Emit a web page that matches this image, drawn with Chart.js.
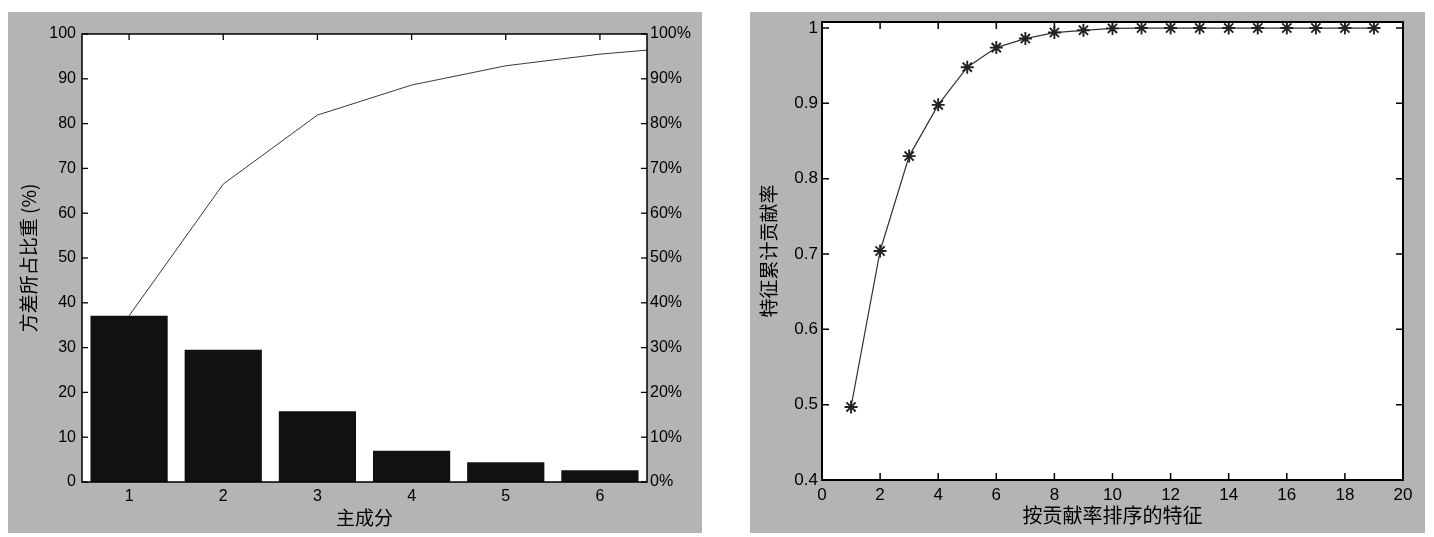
<!DOCTYPE html>
<html>
<head>
<meta charset="utf-8">
<script src="https://cdn.jsdelivr.net/npm/chart.js@4/dist/chart.umd.min.js"></script>
<style>
  html, body { margin: 0; padding: 0; background: #ffffff; }
  body { width: 1434px; height: 537px; position: relative; overflow: hidden; }
  canvas { position: absolute; background: #b4b4b4; }
  #left { left: 8px; top: 12px; }
  #right { left: 750px; top: 12px; }
</style>
</head>
<body>
<canvas id="left" width="694" height="521"></canvas>
<canvas id="right" width="675" height="521"></canvas>
<script>
// ---------- data: left chart (pareto of principal components) ----------
const pcIndex = [1, 2, 3, 4, 5, 6];               // components shown as bars / ticks
const varianceShare = [37.1, 29.5, 15.8, 7.0, 4.4, 2.6];
// cumulative line continues to component 7 and is clipped at the axis edge
const cumulativeIndex = [1, 2, 3, 4, 5, 6, 7];
const cumulativeShare = [37.1, 66.5, 81.9, 88.6, 92.9, 95.5, 97.3];
const leftAxisTitle = '方差所占比重 (%)';
const leftXTitle = '主成分';

// ---------- data: right chart (cumulative contribution) ----------
const featureRank = [1, 2, 3, 4, 5, 6, 7, 8, 9, 10, 11, 12, 13, 14, 15, 16, 17, 18, 19];
const cumulativeContribution = [0.497, 0.704, 0.830, 0.898, 0.948, 0.974, 0.986, 0.994, 0.997, 0.9995,
                                1.0, 1.0, 1.0, 1.0, 1.0, 1.0, 1.0, 1.0, 1.0];
const rightYTicks = [0.4, 0.5, 0.6, 0.7, 0.8, 0.9, 1.0];
const rightYTitle = '特征累计贡献率';
const rightXTitle = '按贡献率排序的特征';

const tickFont = "'Liberation Sans', Arial, sans-serif";
const cjkFont = "'Noto Sans CJK SC', sans-serif";

// MATLAB-like frame: white plot area, inward ticks, box border
function matlabFrame(opts) {
  return {
    id: 'matlabFrame',
    beforeDatasetsDraw(chart) {
      const {ctx, chartArea: a} = chart;
      ctx.save();
      ctx.fillStyle = '#ffffff';
      ctx.fillRect(a.left, a.top, a.right - a.left, a.bottom - a.top);
      ctx.strokeStyle = '#000';
      ctx.lineWidth = opts.tickWidth;
      const L = opts.tickLen;
      const xs = chart.scales.x;
      xs.ticks.forEach((t, i) => {
        const px = xs.getPixelForTick(i);
        ctx.beginPath();
        ctx.moveTo(px, a.bottom); ctx.lineTo(px, a.bottom - L);
        ctx.moveTo(px, a.top); ctx.lineTo(px, a.top + L);
        ctx.stroke();
      });
      const ys = chart.scales.y;
      const yr = chart.scales[opts.rightScale] || ys;
      ys.ticks.forEach((t, i) => {
        const py = ys.getPixelForTick(i);
        ctx.beginPath();
        ctx.moveTo(a.left, py); ctx.lineTo(a.left + L, py);
        if (yr === ys) { ctx.moveTo(a.right, py); ctx.lineTo(a.right - L, py); }
        ctx.stroke();
      });
      if (yr !== ys) {
        yr.ticks.forEach((t, i) => {
          const py = yr.getPixelForTick(i);
          ctx.beginPath();
          ctx.moveTo(a.right, py); ctx.lineTo(a.right - L, py);
          ctx.stroke();
        });
      }
      ctx.restore();
    },
    afterDraw(chart) {
      const {ctx, chartArea: a} = chart;
      ctx.save();
      ctx.strokeStyle = '#000';
      ctx.lineWidth = opts.frameWidth;
      ctx.strokeRect(a.left, a.top, a.right - a.left, a.bottom - a.top);
      ctx.restore();
    }
  };
}

const noGrid = { display: false, drawTicks: false };
function fixW(w) { return s => { s.width = w; s.paddingTop = 0; s.paddingBottom = 0; }; }
function fixH(h) { return s => { s.height = h; s.paddingLeft = 0; s.paddingRight = 0; }; }

// ---------------- left chart ----------------
new Chart(document.getElementById('left'), {
  type: 'bar',
  data: {
    datasets: [
      {
        type: 'line',
        data: cumulativeIndex.map((x, i) => ({ x: x, y: cumulativeShare[i] })),
        yAxisID: 'y1',
        borderColor: '#3a3a3a',
        borderWidth: 1,
        pointRadius: 0,
        fill: false,
        tension: 0,
        order: 0
      },
      {
        type: 'bar',
        data: pcIndex.map((x, i) => ({ x: x, y: varianceShare[i] })),
        yAxisID: 'y',
        backgroundColor: '#111111',
        borderWidth: 0,
        barPercentage: 0.82,
        categoryPercentage: 1.0,
        order: 1
      }
    ]
  },
  options: {
    responsive: false,
    animation: false,
    devicePixelRatio: 1,
    layout: { padding: { top: 22, left: 0, right: 0, bottom: 0 } },
    plugins: { legend: { display: false }, tooltip: { enabled: false } },
    scales: {
      x: {
        type: 'linear',
        min: pcIndex[0] - 0.5,
        max: pcIndex[pcIndex.length - 1] + 0.5,
        offset: false,
        grid: noGrid,
        border: { display: false },
        afterBuildTicks(s) { s.ticks = pcIndex.map(v => ({ value: v })); },
        ticks: { color: '#000', font: { family: tickFont, size: 16 }, padding: 5, maxRotation: 0,
                 callback: v => String(v) },
        title: { display: true, text: leftXTitle, color: '#000',
                 font: { family: cjkFont, size: 19 }, padding: { top: 0, bottom: 4 } },
        afterFit: fixH(51)
      },
      y: {
        type: 'linear', position: 'left', min: 0, max: 100,
        grid: noGrid,
        border: { display: false },
        ticks: { stepSize: 10, color: '#000', font: { family: tickFont, size: 16 }, padding: 6 },
        title: { display: true, text: leftAxisTitle, color: '#000',
                 font: { family: cjkFont, size: 19 }, padding: { top: 9, bottom: 0 } },
        afterFit: fixW(74)
      },
      y1: {
        type: 'linear', position: 'right', min: 0, max: 100,
        grid: noGrid,
        border: { display: false },
        ticks: { stepSize: 10, color: '#000', font: { family: tickFont, size: 16 }, padding: 3,
                 callback: v => v + '%' },
        afterFit: fixW(55)
      }
    }
  },
  plugins: [matlabFrame({ tickLen: 6, tickWidth: 1.3, frameWidth: 1.5, rightScale: 'y1' })]
});

// ---------------- right chart ----------------
new Chart(document.getElementById('right'), {
  type: 'line',
  data: {
    datasets: [{
      data: featureRank.map((x, i) => ({ x: x, y: cumulativeContribution[i] })),
      borderColor: '#333333',
      borderWidth: 1.2,
      pointStyle: 'star',
      pointRadius: 6.5,
      pointBorderWidth: 1.9,
      pointBorderColor: '#222222',
      pointBackgroundColor: '#222222',
      fill: false,
      tension: 0,
      clip: false
    }]
  },
  options: {
    responsive: false,
    animation: false,
    devicePixelRatio: 1,
    layout: { padding: { top: 10, left: 0, right: 22, bottom: 0 } },
    plugins: { legend: { display: false }, tooltip: { enabled: false } },
    scales: {
      x: {
        type: 'linear', min: 0, max: 20,
        grid: noGrid,
        border: { display: false },
        ticks: { stepSize: 2, color: '#000', font: { family: tickFont, size: 17 }, padding: 5, maxRotation: 0 },
        title: { display: true, text: rightXTitle, color: '#000',
                 font: { family: cjkFont, size: 20 }, padding: { top: 0, bottom: 6 } },
        afterFit: fixH(53)
      },
      y: {
        type: 'linear', position: 'left', min: 0.4, max: 1.008,
        grid: noGrid,
        border: { display: false },
        afterBuildTicks(s) { s.ticks = rightYTicks.map(v => ({ value: v })); },
        ticks: { color: '#000', font: { family: tickFont, size: 17 }, padding: 4,
                 callback: v => String(Math.round(v * 10) / 10) },
        title: { display: true, text: rightYTitle, color: '#000',
                 font: { family: cjkFont, size: 19 }, padding: { top: 7, bottom: 0 } },
        afterFit: fixW(72)
      }
    }
  },
  plugins: [matlabFrame({ tickLen: 7, tickWidth: 1.5, frameWidth: 2 })]
});
</script>
</body>
</html>
